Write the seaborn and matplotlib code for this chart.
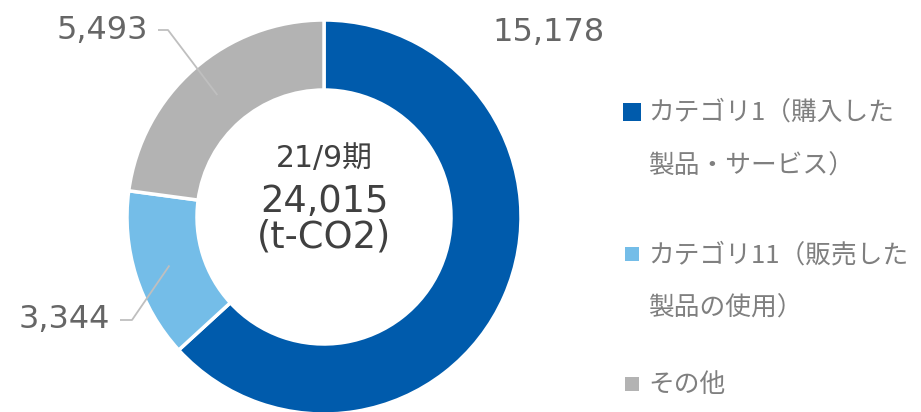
import numpy as np
import matplotlib
matplotlib.use("Agg")
import matplotlib.pyplot as plt
import seaborn as sns

# Scope 3 breakdown (t-CO2)
categories = ["カテゴリ1（購入した\n製品・サービス）", "カテゴリ11（販売した\n製品の使用）", "その他"]
values = [15178, 3344, 5493]
value_labels = ["15,178", "3,344", "5,493"]
period_label = "21/9期"
total_label = "24,015"
unit_label = "(t-CO2)"

sns.set_theme(style="white")
plt.rcParams["font.family"] = ["DejaVu Sans", "Noto Sans CJK JP"]

colors = ["#005bac", "#74bde8", "#b3b3b3"]
label_color = "#666666"
legend_color = "#7f7f7f"

W, H = 921, 412
fig = plt.figure(figsize=(W / 100, H / 100), dpi=100)
ax = fig.add_axes([0, 0, 1, 1])

cx, cy = 324, H - 217
r_out, ring = 197, 70

wedges, _ = ax.pie(values, colors=colors, startangle=90, counterclock=False,
                   radius=r_out, center=(cx, cy),
                   wedgeprops=dict(width=ring, edgecolor="white", linewidth=2.5))
ax.set_xlim(0, W)
ax.set_ylim(0, H)
ax.set_aspect("equal")
ax.axis("off")

# center text
ax.text(cx, H - 158, period_label, ha="center", va="center", fontsize=21.5,
        color="#404040", family=["DejaVu Sans", "Noto Sans CJK JP"])
ax.text(cx, H - 201, total_label, ha="center", va="center", fontsize=26.5, color="#404040")
ax.text(cx, H - 237, unit_label, ha="center", va="center", fontsize=26.5, color="#404040")

# value labels
r_mid = r_out - ring / 2
mids = [np.deg2rad((w.theta1 + w.theta2) / 2) for w in wedges]

ax.text(549, H - 32, value_labels[0], ha="center", va="center", fontsize=23, color=label_color)

# small slices: label with elbow leader line to the ring's middle
for idx, (tx, ty, ex, hx) in {2: (148, H - 30, 168, 158), 1: (110, H - 320, 132, 120)}.items():
    a = mids[idx]
    px, py = cx + r_mid * np.cos(a), cy + r_mid * np.sin(a)
    ax.plot([px, ex, hx], [py, ty, ty], color="#bfbfbf", lw=1.3, solid_capstyle="butt")
    ax.text(tx, ty, value_labels[idx], ha="right", va="center", fontsize=23, color=label_color)

# legend
leg_rows = [(H - 113, 18), (H - 255, 14), (H - 385, 14)]
for (ly, sz), cat, col in zip(leg_rows, categories, colors):
    ax.add_patch(plt.Rectangle((632 - sz / 2, ly - sz / 2 + 1), sz, sz, color=col, lw=0))
    lines = cat.split("\n")
    for k, line in enumerate(lines):
        ax.text(648, ly - k * 54, line, ha="left", va="center", fontsize=18.5,
                color=legend_color, family=["Noto Sans CJK JP", "DejaVu Sans"])

fig.savefig("out.png", dpi=100)
